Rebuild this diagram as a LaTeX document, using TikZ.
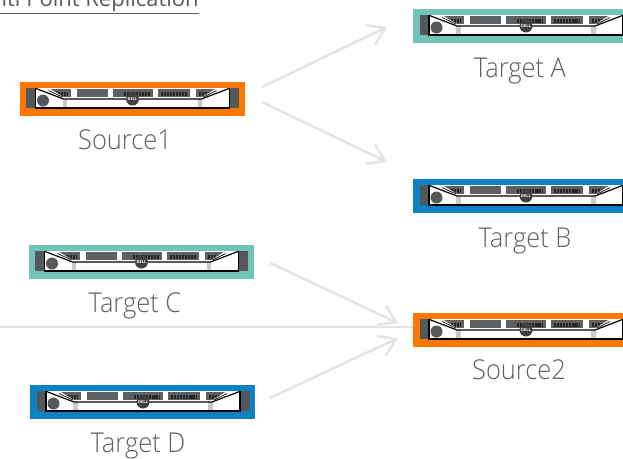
\documentclass[tikz,border=0pt]{standalone}
\usepackage{fontspec}
\setmainfont{Open Sans Light}[FakeStretch=0.93]
\newfontfamily\titlefont{Open Sans}
\usetikzlibrary{arrows.meta}
\definecolor{orng}{HTML}{FF7700}
\definecolor{teal1}{HTML}{72C4BA}
\definecolor{blue1}{HTML}{0A82C3}
\definecolor{bay}{HTML}{5E6164}
\definecolor{ear}{HTML}{55585B}
\definecolor{post}{HTML}{C8CACA}
\definecolor{lnk}{HTML}{E4E4E4}
\definecolor{txt}{HTML}{606060}
\tikzset{
  lbl/.style={text=txt,font=\fontsize{20.5pt}{24pt}\selectfont,inner sep=0pt,anchor=base},
  link/.style={draw=lnk,line width=1.9pt,-{Straight Barb[length=12pt,width=16pt,line width=1.9pt]}},
  plainlink/.style={draw=lnk,line width=2pt},
  framebox/.style={minimum width=168.75pt,minimum height=25pt,inner sep=0pt,anchor=north west},
  logo/.style={text=white,font=\titlefont\bfseries\fontsize{3pt}{3pt}\selectfont,inner sep=0pt},
  ticks/.style={black!85,line width=3.2pt,dash pattern=on 1.6pt off 0.7pt},
}
\newcommand{\srv}[4]{%
\node[framebox,fill=#4] (#1) at (#2,#3) {};
\begin{scope}[shift={(#2,#3)}]
\fill[white] (16,6) rectangle (210,26);
\fill[ear] (6.5,6) rectangle (16,26);
\fill[ear] (210,6) rectangle (219.5,26);
\fill[bay] (29,7) rectangle (51,15);
\fill[bay] (57,7) rectangle (88,15);
\fill[bay] (93,7) rectangle (133,15);
\fill[bay] (138,7) rectangle (170,15);
\fill[bay] (176,7) rectangle (197,15);
\draw[ticks] (32,12) -- (48,12);
\draw[ticks] (104,12) -- (130,12);
\draw[ticks] (141,12) -- (167,12);
\draw[ticks] (179,12) -- (194,12);
\fill[white] (16,6) -- (29,6) -- (44,15) -- (44,26) -- (16,26) -- cycle;
\fill[white] (210,6) -- (197,6) -- (183,15) -- (183,26) -- (210,26) -- cycle;
\fill[post] (43,17) rectangle (47.5,26);
\fill[post] (178,17) rectangle (182.5,26);
\fill[ear] (23.5,18.5) circle (6);
\draw[black,line width=0.5pt] (29,8.5) -- (43,15) (197,8.5) -- (184,15);
\draw[black,line width=0.9pt] (16,6.3) -- (44,17) -- (182,17) -- (210,6.3);
\draw[black,line width=0.9pt] (16,6) -- (16,26) -- (210,26) -- (210,6);
\fill[black!75] (113,17) circle (6.5);
\node[logo] (#1l) at (113,17) {DELL};
\end{scope}}
\begin{document}
\begin{tikzpicture}[x=0.75pt,y=-0.75pt]
\useasboundingbox (0,0) rectangle (623,458);
\clip (0,0) rectangle (623,458);
\node[text=black!65,font=\titlefont\fontsize{16.5pt}{18pt}\selectfont,inner sep=0pt,anchor=base east] (title) at (199,6.5) {\underline{Multi Point Replication}};
\srv{s1}{19.5}{82}{orng}
\srv{ta}{413}{9}{teal1}
\srv{tb}{413}{179}{blue1}
\srv{tc}{28.5}{245}{teal1}
\srv{s2}{413}{313}{orng}
\srv{td}{30}{385}{blue1}
\node[lbl] (ls1) at (125,149) {Source1};
\node[lbl] (lta) at (520,77) {Target A};
\node[lbl] (ltb) at (525,247) {Target B};
\node[lbl] (ltc) at (135,312) {Target C};
\node[lbl] (ls2) at (519,379) {Source2};
\node[lbl] (ltd) at (138,452) {Target D};
\coordinate (a1) at (262,87);
\coordinate (a2) at (387,27);
\coordinate (b1) at (262,102);
\coordinate (b2) at (387,162);
\coordinate (c1) at (270,263);
\coordinate (c2) at (398,323);
\coordinate (e1) at (0,327);
\coordinate (e2) at (413,327);
\coordinate (d1) at (270,398);
\coordinate (d2) at (398,338);
\draw[link] (a1) -- (a2);
\draw[link] (b1) -- (b2);
\draw[link] (c1) -- (c2);
\draw[plainlink] (e1) -- (e2);
\draw[link] (d1) -- (d2);
\end{tikzpicture}
\end{document}
